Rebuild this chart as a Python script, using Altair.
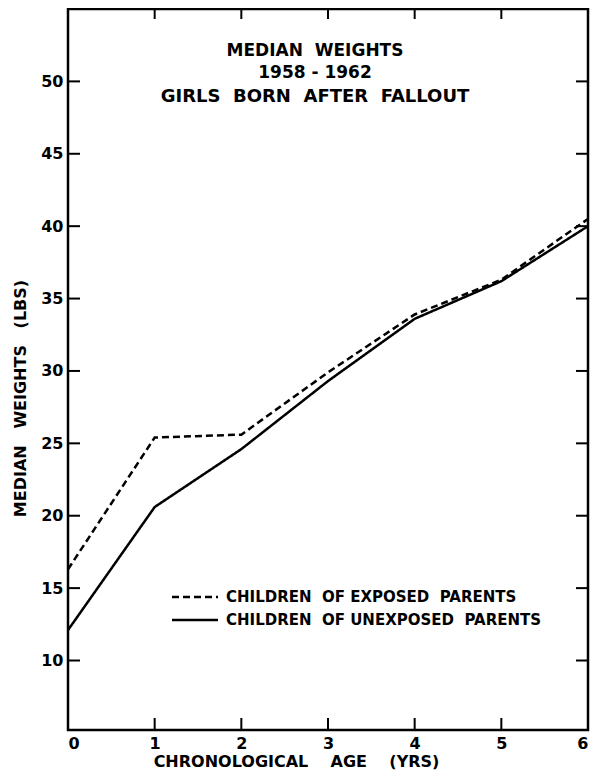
import altair as alt
import pandas as pd

# ---- data ----
age = [0, 1, 2, 3, 4, 5, 6]
exposed = [16.3, 25.4, 25.6, 29.9, 33.9, 36.3, 40.5]
unexposed = [12.1, 20.6, 24.6, 29.3, 33.6, 36.2, 40.0]
NB = "\u00a0"
series_names = [f"CHILDREN{NB*2}OF{NB}EXPOSED{NB*2}PARENTS",
                f"CHILDREN{NB*2}OF{NB}UNEXPOSED{NB*2}PARENTS"]
series_dash = [[7, 4], [1, 0]]

y_ticks = [10, 15, 20, 25, 30, 35, 40, 45, 50]
x_ticks = [0, 1, 2, 3, 4, 5, 6]
x_inner_ticks = [1, 2, 3, 4, 5]
title_lines = [f"MEDIAN{NB*2}WEIGHTS", f"1958{NB}-{NB}1962",
               f"GIRLS{NB*2}BORN{NB*2}AFTER{NB*2}FALLOUT"]
x_title = f"CHRONOLOGICAL{NB*4}AGE{NB*4}(YRS)"
y_title = f"MEDIAN{NB*3}WEIGHTS{NB*3}(LBS)"

FONT = "DejaVu Sans"
W, H = 520, 721

rows = []
for a, e, u in zip(age, exposed, unexposed):
    rows.append({"age": a, "weight": e, "group": series_names[0]})
    rows.append({"age": a, "weight": u, "group": series_names[1]})
df = pd.DataFrame(rows)

xs = alt.Scale(domain=[0, 6], nice=False, zero=False)
ys = alt.Scale(domain=[5.2, 55], nice=False, zero=False)

lines = alt.Chart(df).mark_line(color="black", strokeWidth=2.5).encode(
    x=alt.X("age:Q", scale=xs,
            axis=alt.Axis(values=x_ticks, format="d", title=x_title, grid=False,
                          ticks=False, domain=False, labelFont=FONT, labelFontWeight="bold",
                          labelFontSize=16, labelColor="black", labelPadding=5,
                          titleFont=FONT, titleFontWeight="bold", titleFontSize=16,
                          titleColor="black", titlePadding=2, titleX=228)),
    y=alt.Y("weight:Q", scale=ys,
            axis=alt.Axis(values=y_ticks, title=y_title, grid=False,
                          ticks=False, domain=False, labelFont=FONT, labelFontWeight="bold",
                          labelFontSize=16, labelColor="black", labelPadding=5,
                          titleFont=FONT, titleFontWeight="bold", titleFontSize=16,
                          titleColor="black", titlePadding=12, titleY=389)),
    strokeDash=alt.StrokeDash(
        "group:N",
        scale=alt.Scale(domain=series_names, range=series_dash),
        legend=None,
    ),
)

yt = pd.DataFrame({"weight": y_ticks})
xt = pd.DataFrame({"age": x_inner_ticks})

left_ticks = alt.Chart(yt).mark_rule(color="black", strokeWidth=2).encode(
    y=alt.Y("weight:Q"), x=alt.value(0), x2=alt.value(12))
right_ticks = alt.Chart(yt).mark_rule(color="black", strokeWidth=2).encode(
    y=alt.Y("weight:Q"), x=alt.value(W - 12), x2=alt.value(W))
top_ticks = alt.Chart(xt).mark_rule(color="black", strokeWidth=2).encode(
    x=alt.X("age:Q"), y=alt.value(0), y2=alt.value(10))
bottom_ticks = alt.Chart(xt).mark_rule(color="black", strokeWidth=2).encode(
    x=alt.X("age:Q"), y=alt.value(H - 12), y2=alt.value(H))

# title block inside the plot
title_layers = []
for txt, ypos, fs in zip(title_lines, [42, 64, 88], [17, 17, 18]):
    title_layers.append(
        alt.Chart(pd.DataFrame({"txt": [txt]})).mark_text(
            font=FONT, fontWeight="bold", fontSize=fs, color="black",
            align="center", baseline="middle").encode(
            text="txt:N", x=alt.value(247), y=alt.value(ypos)))

# legend inside the plot
legend_layers = []
for name, dash, ypos in zip(series_names, series_dash, [588, 611]):
    one = pd.DataFrame({"name": [name]})
    legend_layers.append(
        alt.Chart(one).mark_rule(color="black", strokeWidth=2.5, strokeDash=dash).encode(
            x=alt.value(104), x2=alt.value(150), y=alt.value(ypos)))
    legend_layers.append(
        alt.Chart(one).mark_text(font=FONT, fontWeight="bold", fontSize=15, color="black",
                                 align="left", baseline="middle").encode(
            text="name:N", x=alt.value(158), y=alt.value(ypos)))

chart = alt.layer(lines, left_ticks, right_ticks, top_ticks, bottom_ticks,
                  *title_layers, *legend_layers).properties(
    width=W, height=H,
    autosize=alt.AutoSizeParams(type="none"),
    padding={"left": 60, "top": 1, "right": 2, "bottom": 44},
).configure(background="white").configure_view(stroke="black", strokeWidth=2.5)

chart.save("out.html", embed_options={"renderer": "svg", "actions": False})
